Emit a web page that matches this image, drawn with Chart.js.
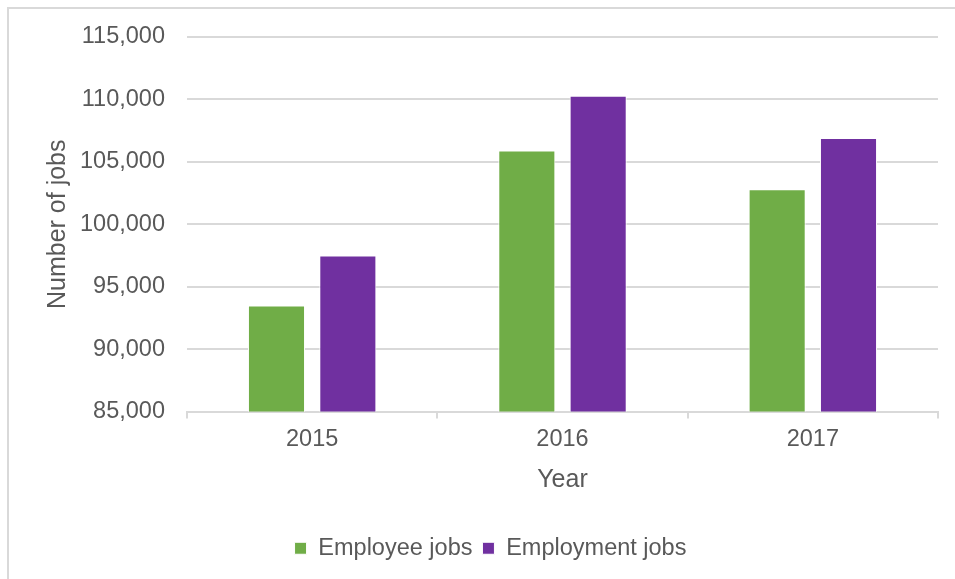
<!DOCTYPE html>
<html>
<head>
<meta charset="utf-8">
<script src="https://cdn.jsdelivr.net/npm/chart.js@4"></script>
<style>
  html, body { margin: 0; padding: 0; background: #fff; }
  #wrap { width: 955px; height: 579px; }
</style>
</head>
<body>
<div id="wrap"><canvas id="jobsChart" width="955" height="579"></canvas></div>
<script>
const years = ['2015', '2016', '2017'];
const employeeJobs = [93500, 105900, 102800];
const employmentJobs = [97500, 110300, 106900];

const textColor = '#595959';
const gridColor = '#d9d9d9';

// light frame on top and left, like the exported picture
const framePlugin = {
    id: 'frame',
    beforeDraw(chart) {
        const c = chart.ctx;
        c.save();
        c.strokeStyle = gridColor;
        c.lineWidth = 2;
        c.beginPath();
        c.moveTo(7, 8);
        c.lineTo(955, 8);
        c.moveTo(8, 7);
        c.lineTo(8, 579);
        c.stroke();
        c.restore();
    }
};

const data = {
    labels: years,
    datasets: [{
        label: 'Employee jobs',
        data: employeeJobs,
        backgroundColor: '#70ad47',
        borderColor: '#ffffff',
        borderWidth: 1,
        categoryPercentage: 0.57,
        barPercentage: 0.8
    }, {
        label: 'Employment jobs',
        data: employmentJobs,
        backgroundColor: '#7030a0',
        borderColor: '#ffffff',
        borderWidth: 1,
        categoryPercentage: 0.57,
        barPercentage: 0.8
    }]
};

const options = {
    responsive: false,
    animation: false,
    layout: { padding: { left: 43, right: 17, top: 37, bottom: 9 } },
    plugins: {
        legend: {
            position: 'bottom',
            labels: {
                color: textColor,
                font: { family: 'Liberation Sans', size: 23.5 },
                boxWidth: 12,
                boxHeight: 12,
                padding: 10
            }
        },
        tooltip: { enabled: false }
    },
    scales: {
        x: {
            grid: {
                display: true,
                drawOnChartArea: false,
                drawTicks: true,
                tickLength: 7,
                color: gridColor,
                lineWidth: 2
            },
            border: { display: true, color: gridColor, width: 2 },
            ticks: {
                color: textColor,
                font: { family: 'Liberation Sans', size: 23.5 },
                padding: 7
            },
            title: {
                display: true,
                text: 'Year',
                color: textColor,
                font: { family: 'Liberation Sans', size: 25 },
                padding: { top: 0, bottom: 31 }
            },
            afterFit(scale) { scale.height = 115; }
        },
        y: {
            min: 85000,
            max: 115000,
            ticks: {
                stepSize: 5000,
                color: textColor,
                font: { family: 'Liberation Sans', size: 23.5 },
                padding: 22,
                callback: v => v.toLocaleString('en-US')
            },
            grid: {
                color: gridColor,
                lineWidth: 2,
                drawTicks: false
            },
            border: { display: false },
            title: {
                display: true,
                text: 'Number of jobs',
                color: textColor,
                font: { family: 'Liberation Sans', size: 25 },
                padding: { top: 0, bottom: 0 }
            },
            afterFit(scale) { scale.width = 144; }
        }
    }
};

const ctx = document.getElementById('jobsChart').getContext('2d');
const jobsChart = new Chart(ctx, {
    type: 'bar',
    data: data,
    options: options,
    plugins: [framePlugin]
});
</script>
</body>
</html>
